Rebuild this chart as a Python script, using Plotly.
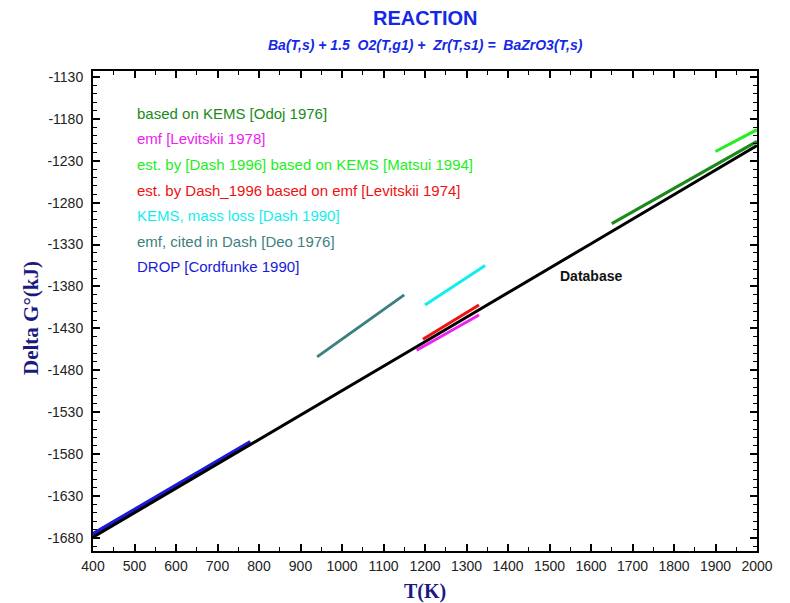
import plotly.graph_objects as go

# ---------------- data ----------------
db_T = [400, 800, 1200, 1600, 2000]
db_G = [-1679, -1563, -1446, -1329, -1212]

series_names = [
    "based on KEMS [Odoj 1976]",
    "emf [Levitskii 1978]",
    "est. by [Dash 1996] based on KEMS [Matsui 1994]",
    "est. by Dash_1996 based on emf [Levitskii 1974]",
    "KEMS, mass loss [Dash 1990]",
    "emf, cited in Dash [Deo 1976]",
    "DROP [Cordfunke 1990]",
]
odoj_T = [1650, 2000]
odoj_G = [-1305, -1207]
lev78_T = [1180, 1330]
lev78_G = [-1456, -1414]
matsui_T = [1900, 2000]
matsui_G = [-1219, -1193]
lev74_T = [1195, 1330]
lev74_G = [-1443, -1402]
dash90_T = [1200, 1345]
dash90_G = [-1402, -1355]
deo_T = [940, 1150]
deo_G = [-1464, -1390]
cord_T = [400, 780]
cord_G = [-1676, -1566]

x_ticks = list(range(400, 2001, 100))
y_ticks = list(range(-1680, -1129, 50))

# ---------------- style ----------------
colors = ["#1a8a1a", "#ee22ee", "#22ee22", "#ee1111", "#11eeee", "#3d8080", "#1a1ad8"]
widths = [3, 3, 3, 3, 3, 3, 5]
series_T = [odoj_T, lev78_T, matsui_T, lev74_T, dash90_T, deo_T, cord_T]
series_G = [odoj_G, lev78_G, matsui_G, lev74_G, dash90_G, deo_G, cord_G]

fig = go.Figure()
for name, T, G, c, w in zip(series_names, series_T, series_G, colors, widths):
    fig.add_trace(go.Scatter(x=T, y=G, mode="lines", name=name,
                             line=dict(color=c, width=w), showlegend=False))
fig.add_trace(go.Scatter(x=db_T, y=db_G, mode="lines", name="Database",
                         line=dict(color="black", width=3), showlegend=False))

L, R, T_, B = 93, 33, 71, 52
W, H = 790, 603
pw, ph = W - L - R, H - T_ - B

def px_x(p):
    return (p - L) / pw

def px_y(p):
    return (H - B - p) / ph

annotations = []
# legend-like colored text
for i, (name, c) in enumerate(zip(series_names, colors)):
    annotations.append(dict(
        x=px_x(135), y=px_y(113.3 + i * 25.6), xref="paper", yref="paper",
        xanchor="left", yanchor="middle", showarrow=False, text=name,
        font=dict(family="Liberation Sans, Arial", size=15, color=c)))

annotations.append(dict(
    x=0.5, y=px_y(18), xref="paper", yref="paper", xanchor="center", yanchor="middle",
    showarrow=False, text="<b>REACTION</b>",
    font=dict(family="Liberation Sans, Arial", size=20, color="#1428e6")))
annotations.append(dict(
    x=0.5, y=px_y(45), xref="paper", yref="paper", xanchor="center", yanchor="middle",
    showarrow=False,
    text="<b><i>Ba(T,s) + 1.5&nbsp; O2(T,g1) +&nbsp; Zr(T,s1) =&nbsp; BaZrO3(T,s)</i></b>",
    font=dict(family="Liberation Sans, Arial", size=14, color="#1428e6")))
annotations.append(dict(
    x=1600, y=-1367, xref="x", yref="y", xanchor="center", yanchor="middle",
    showarrow=False, text="<b>Database</b>",
    font=dict(family="Liberation Sans, Arial", size=14, color="#111111")))
annotations.append(dict(
    x=0.5, y=px_y(591), xref="paper", yref="paper", xanchor="center", yanchor="middle",
    showarrow=False, text="<b>T(K)</b>",
    font=dict(family="Liberation Serif, Times New Roman", size=20, color="#1a1a80")))
annotations.append(dict(
    x=px_x(31), y=px_y(318), xref="paper", yref="paper", xanchor="center", yanchor="middle",
    showarrow=False, text="<b>Delta G°(kJ)</b>", textangle=-90,
    font=dict(family="Liberation Serif, Times New Roman", size=21, color="#1a1a80")))

axis_common = dict(
    showgrid=False, zeroline=False, showline=True, linecolor="black", linewidth=2,
    mirror="ticks", ticks="inside", ticklen=7, tickwidth=1.5, tickcolor="black",
    tickfont=dict(family="Liberation Sans, Arial", size=14, color="#222222"),
)

fig.update_layout(
    width=W, height=H,
    margin=dict(l=L, r=R, t=T_, b=B, pad=0),
    paper_bgcolor="white", plot_bgcolor="white",
    annotations=annotations,
    xaxis=dict(range=[400, 2000], tickvals=x_ticks, ticktext=[str(v) for v in x_ticks],
               minor=dict(dtick=50, ticks="inside", ticklen=4, tickcolor="black", tickwidth=1.2),
               ticklabelstandoff=1, **axis_common),
    yaxis=dict(range=[-1695.5, -1123], tickvals=y_ticks, ticktext=[str(v) for v in y_ticks],
               minor=dict(dtick=10, ticks="inside", ticklen=4, tickcolor="black", tickwidth=1.2),
               ticklabelstandoff=5, **axis_common),
)

fig.write_html("out.html", config={"displayModeBar": False},
               post_script="document.body.style.margin='0';document.body.style.padding='0';")
